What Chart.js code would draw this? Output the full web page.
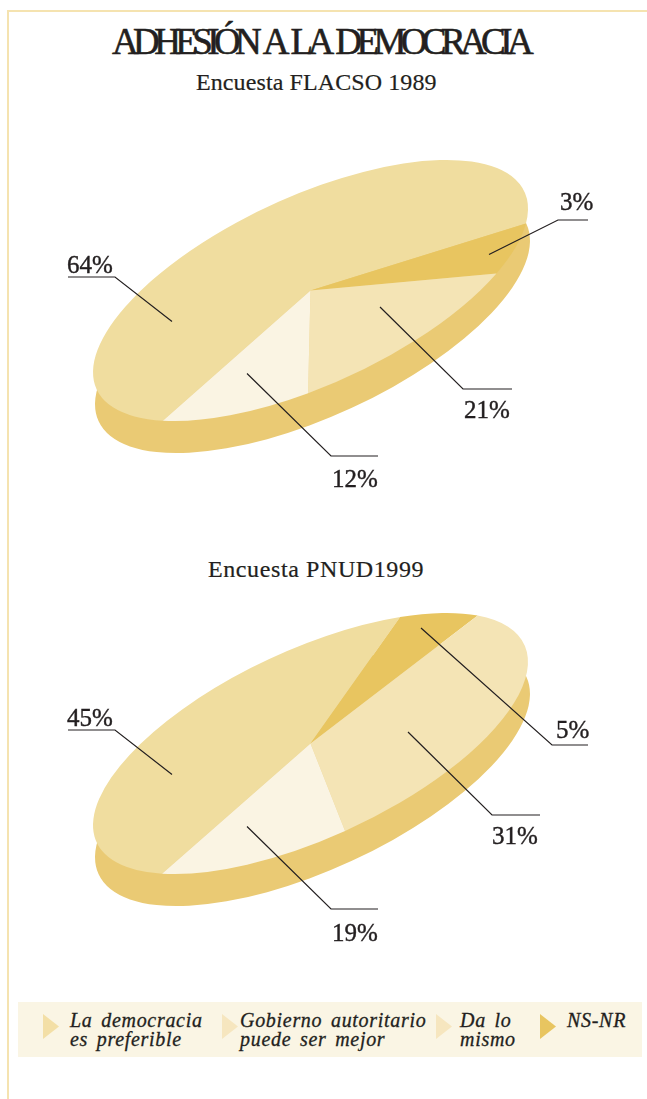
<!DOCTYPE html>
<html lang="es">
<head>
<meta charset="utf-8">
<title>Adhesión a la democracia</title>
<script src="https://cdn.jsdelivr.net/npm/chart.js@4/dist/chart.umd.min.js"></script>
<style>
  html, body { margin: 0; padding: 0; background: #fff; }
  body { position: relative; width: 647px; height: 1099px; overflow: hidden; font-family: "Liberation Serif", serif; color: #231f20; }
  .frame { position: absolute; left: 7px; top: 10px; right: 0; bottom: -3px; border-left: 2px solid #f5e3b0; border-top: 2px solid #f5e3b0; }
  canvas { position: absolute; left: 0; }
  .title { position: absolute; left: 0; width: 640px; top: 20px; text-align: center; font-size: 37px; line-height: 44px; letter-spacing: -5.6px; word-spacing: 5px; font-weight: normal; margin: 0; -webkit-text-stroke: .6px #231f20; }
  .sub { position: absolute; font-size: 24px; line-height: 28px; white-space: nowrap; -webkit-text-stroke: .2px #231f20; }
  .legend-box { position: absolute; left: 18px; top: 1002px; width: 624px; height: 55px; background: #faf5e4; }
  .mark { position: absolute; top: 1014px; width: 16px; height: 25px; clip-path: polygon(0 0, 100% 50%, 0 100%); }
  .entry { position: absolute; top: 1011px; font-size: 20px; line-height: 19px; font-style: italic; letter-spacing: .7px; word-spacing: 3px; white-space: pre; -webkit-text-stroke: .3px #231f20; }
</style>
</head>
<body>
<div class="frame"></div>
<h1 class="title">ADHESIÓN A LA DEMOCRACIA</h1>
<div class="sub" style="left:196px;top:68px;letter-spacing:.1px">Encuesta FLACSO 1989</div>
<div class="sub" style="left:208px;top:555px;letter-spacing:.6px">Encuesta PNUD1999</div>
<canvas id="pie1989"></canvas>
<canvas id="pie1999"></canvas>
<div class="legend-box"></div>
<div id="legend"></div>

<script>
// categories in the order the slices run clockwise
const categories = ['La democracia es preferible', 'NS-NR', 'Da lo mismo', 'Gobierno autoritario puede ser mejor'];
const sliceColors = ['#f0dd9f', '#e8c560', '#f4e4b5', '#faf4e3'];

// printed percentages
const printed1989 = [64, 3, 21, 12];
const printed1999 = [45, 5, 31, 19];

// the slices in the drawing are not to scale with the printed numbers,
// so the arcs use the shares
const arcs1989 = [65.3, 6.5, 16.5, 11.7];
const arcs1999 = [44.8, 7.2, 33.5, 14.5];

const legendLabels = ['La democracia\nes preferible', 'Gobierno autoritario\npuede ser mejor', 'Da lo\nmismo', 'NS-NR'];
const legendColors = ['#f3dfa6', '#f6e6bf', '#f6e6bf', '#e8c560'];
const legendMarkX = [43, 222, 436, 540];
const legendTextX = [70, 240, 460, 567];

const SIDE_COLOR = '#eaca74';
const TILT = 24.8 * Math.PI / 180;
const MAJOR = 235.6;
const MINOR = 94;
const DEPTH = { x: 2, y: 32 };

// squashes the round pie into the tilted ellipse and draws the thick edge under it
const tiltPlugin = {
  id: 'tilt',
  beforeDatasetsDraw(chart) {
    const { x, y, outerRadius } = chart.getDatasetMeta(0).data[0];
    const ctx = chart.ctx;
    ctx.save();
    ctx.fillStyle = SIDE_COLOR;
    ctx.beginPath();
    ctx.ellipse(x + DEPTH.x, y + DEPTH.y, MAJOR, MINOR, -TILT, 0, Math.PI * 2);
    ctx.fill();
    ctx.translate(x, y);
    ctx.rotate(-TILT);
    ctx.scale(MAJOR / outerRadius, MINOR / outerRadius);
    ctx.translate(-x, -y);
  },
  afterDatasetsDraw(chart) {
    chart.ctx.restore();
  }
};

// leader lines and percentage labels, coordinates are page pixels
const calloutPlugin = {
  id: 'callouts',
  afterDraw(chart, args, opts) {
    const ctx = chart.ctx;
    ctx.save();
    ctx.strokeStyle = '#231f20';
    ctx.fillStyle = '#231f20';
    ctx.font = '25px "Liberation Serif"';
    ctx.textBaseline = 'alphabetic';
    opts.items.forEach((item, i) => {
      ctx.lineWidth = 1.2;
      ctx.beginPath();
      item.line.forEach((p, j) => {
        if (j === 0) ctx.moveTo(p[0], p[1] - opts.top);
        else ctx.lineTo(p[0], p[1] - opts.top);
      });
      ctx.stroke();
      const text = opts.printed[i] + '%';
      ctx.fillText(text, item.text[0], item.text[1] - opts.top);
      ctx.lineWidth = 0.4;
      ctx.strokeText(text, item.text[0], item.text[1] - opts.top);
    });
    ctx.restore();
  }
};

function drawPie(id, top, arcs, printed, rotation, items) {
  const canvas = document.getElementById(id);
  canvas.style.top = top + 'px';
  canvas.width = 621;
  canvas.height = 401;
  canvas.style.width = '621px';
  canvas.style.height = '401px';
  return new Chart(canvas, {
    type: 'pie',
    data: {
      labels: categories,
      datasets: [{ data: arcs, backgroundColor: sliceColors, borderWidth: 0, clip: false }]
    },
    options: {
      responsive: false,
      animation: false,
      rotation: rotation,
      plugins: {
        legend: { display: false },
        tooltip: { enabled: false },
        callouts: { top: top, printed: printed, items: items }
      }
    },
    plugins: [tiltPlugin, calloutPlugin]
  });
}

drawPie('pie1989', 90, arcs1989, printed1989, 233.2, [
  { line: [[68, 277], [115, 277], [172, 321.5]], text: [67, 273] },
  { line: [[489, 254.5], [558, 220], [588, 220]], text: [560, 210] },
  { line: [[380, 307], [463, 389], [512, 389]], text: [464, 418] },
  { line: [[247, 373.5], [331, 456], [378, 456]], text: [332, 487] }
]);

drawPie('pie1999', 543, arcs1999, printed1999, 233.5, [
  { line: [[68, 730], [115, 730], [172, 774.5]], text: [67, 726] },
  { line: [[421, 628], [552, 745], [588, 745]], text: [556, 738] },
  { line: [[408, 732], [492, 815], [540, 815]], text: [492, 844] },
  { line: [[247, 826.5], [331, 909], [378, 909]], text: [332, 941] }
]);

const legend = document.getElementById('legend');
legendLabels.forEach((label, i) => {
  const mark = document.createElement('div');
  mark.className = 'mark';
  mark.style.left = legendMarkX[i] + 'px';
  mark.style.background = legendColors[i];
  legend.appendChild(mark);
  const entry = document.createElement('div');
  entry.className = 'entry';
  entry.style.left = legendTextX[i] + 'px';
  entry.textContent = label;
  legend.appendChild(entry);
});
</script>
</body>
</html>
